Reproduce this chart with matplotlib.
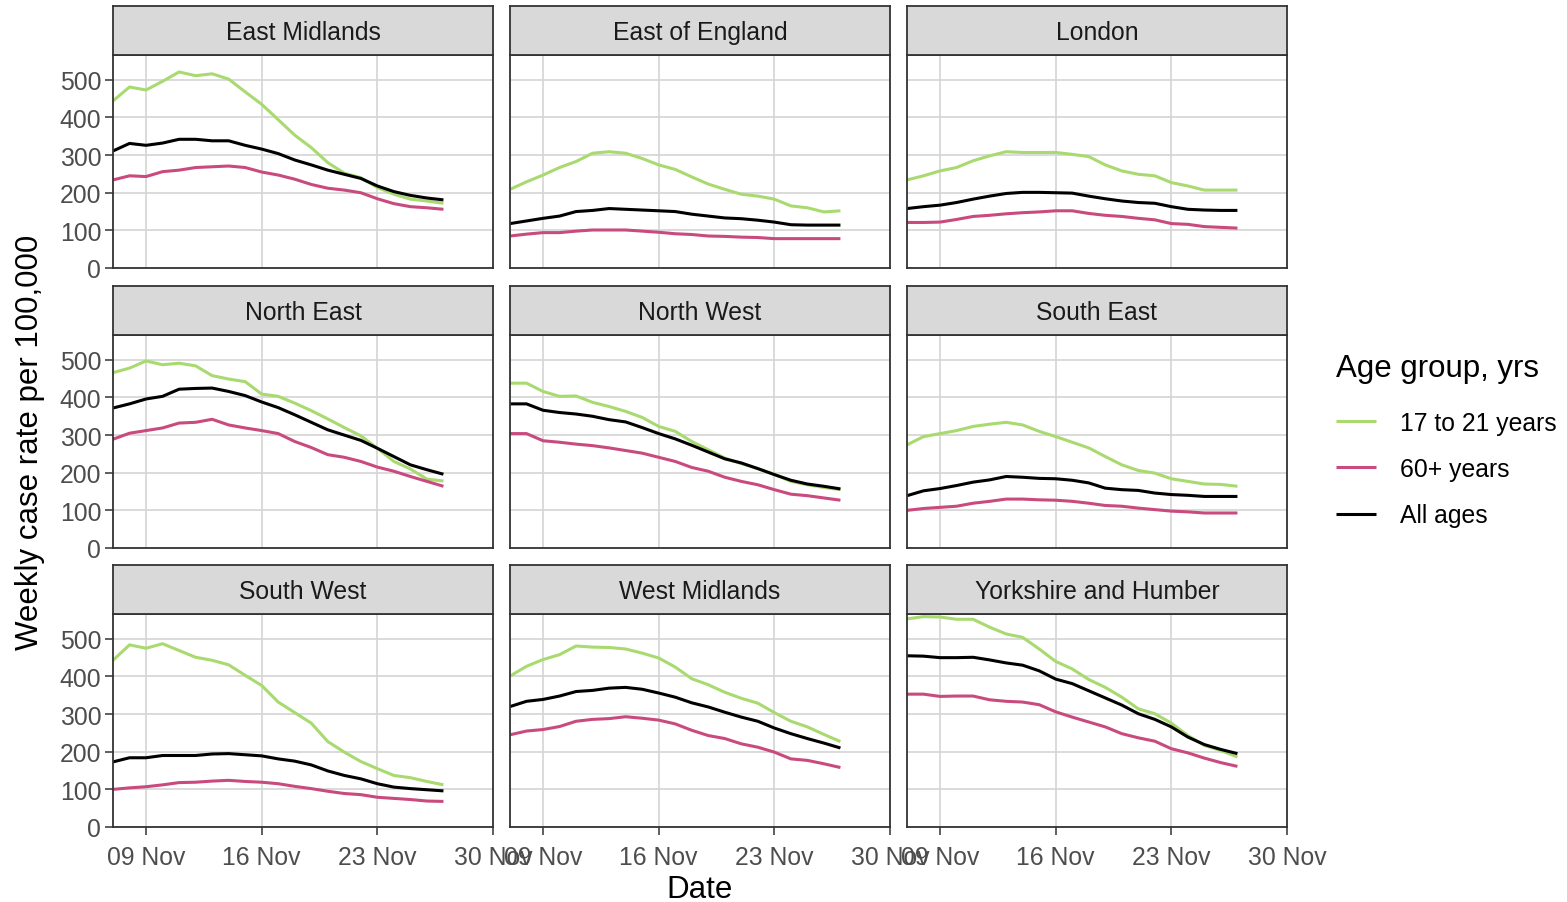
import matplotlib
matplotlib.use('Agg')
import matplotlib.pyplot as plt
import matplotlib.dates as mdates
import pandas as pd

plt.rcParams['font.family'] = ['Liberation Sans', 'DejaVu Sans']

# daily values, 07 Nov to 27 Nov 2020
dates = pd.date_range('2020-11-07', '2020-11-27', freq='D')

regions = ['East Midlands', 'East of England', 'London',
           'North East', 'North West', 'South East',
           'South West', 'West Midlands', 'Yorkshire and Humber']

age_groups = ['17 to 21 years', '60+ years', 'All ages']
age_colors = ['#a8da70', '#c94a7e', '#000000']

east_midlands_young = [444, 481, 473, 496, 521, 511, 516, 502, 468, 435, 394, 353, 320, 280, 252, 240, 214, 196, 183, 178, 172]
east_midlands_old = [234, 245, 243, 256, 260, 267, 269, 271, 267, 255, 247, 236, 222, 212, 207, 200, 184, 171, 163, 160, 156]
east_midlands_all = [311, 331, 326, 332, 342, 342, 338, 338, 326, 316, 304, 287, 274, 260, 249, 238, 218, 203, 193, 186, 181]

east_england_young = [209, 229, 247, 267, 283, 305, 309, 305, 291, 274, 262, 242, 223, 209, 196, 191, 183, 165, 160, 149, 152]
east_england_old = [85, 90, 94, 94, 98, 101, 101, 101, 98, 95, 91, 89, 85, 84, 82, 81, 78, 78, 78, 78, 78]
east_england_all = [118, 125, 132, 138, 150, 153, 158, 156, 154, 152, 150, 143, 138, 133, 131, 127, 122, 115, 114, 114, 114]

london_young = [234, 245, 258, 267, 285, 298, 309, 307, 307, 307, 302, 296, 274, 258, 249, 245, 227, 218, 207, 207, 207]
london_old = [121, 121, 122, 129, 137, 140, 144, 147, 149, 152, 152, 145, 140, 137, 132, 128, 118, 116, 110, 108, 106]
london_all = [158, 163, 167, 174, 183, 191, 198, 201, 201, 200, 199, 191, 184, 178, 174, 172, 163, 156, 154, 153, 153]

north_east_young = [466, 478, 497, 487, 491, 484, 458, 449, 442, 409, 403, 385, 365, 343, 320, 298, 265, 230, 210, 183, 178]
north_east_old = [289, 305, 312, 319, 332, 334, 342, 327, 319, 312, 304, 283, 267, 248, 241, 230, 215, 204, 190, 177, 164]
north_east_all = [372, 383, 396, 403, 422, 424, 425, 416, 405, 388, 373, 354, 334, 314, 300, 286, 265, 243, 221, 208, 196]

north_west_young = [438, 438, 416, 403, 404, 387, 376, 363, 347, 323, 310, 283, 261, 239, 224, 211, 196, 177, 168, 161, 155]
north_west_old = [304, 304, 285, 281, 276, 272, 266, 259, 252, 241, 230, 214, 204, 188, 177, 168, 155, 143, 139, 133, 127]
north_west_all = [383, 383, 366, 360, 356, 350, 341, 335, 320, 304, 290, 273, 255, 237, 226, 211, 195, 180, 170, 164, 157]

south_east_young = [274, 296, 304, 312, 323, 329, 334, 327, 310, 296, 281, 266, 243, 221, 206, 199, 184, 177, 170, 169, 164]
south_east_old = [100, 105, 108, 111, 119, 124, 130, 130, 128, 127, 124, 119, 113, 111, 106, 102, 98, 96, 93, 93, 93]
south_east_all = [139, 152, 158, 166, 175, 181, 190, 188, 185, 184, 180, 173, 159, 155, 153, 146, 142, 140, 137, 137, 137]

south_west_young = [443, 484, 475, 487, 469, 451, 443, 431, 403, 376, 332, 304, 276, 227, 199, 174, 155, 137, 131, 121, 112]
south_west_old = [100, 104, 107, 112, 118, 119, 122, 124, 121, 119, 115, 108, 102, 95, 89, 86, 79, 76, 73, 69, 68]
south_west_all = [173, 184, 184, 190, 190, 190, 194, 195, 192, 189, 181, 175, 165, 149, 137, 128, 115, 106, 102, 99, 96]

west_midlands_young = [401, 427, 445, 458, 481, 478, 477, 473, 462, 449, 425, 394, 378, 358, 342, 329, 304, 281, 266, 246, 227]
west_midlands_old = [245, 255, 259, 267, 281, 286, 288, 293, 289, 284, 274, 257, 243, 235, 221, 212, 199, 181, 177, 168, 158]
west_midlands_all = [320, 334, 339, 348, 360, 363, 369, 371, 366, 356, 345, 330, 319, 305, 292, 281, 263, 248, 235, 223, 210]

yorkshire_young = [553, 559, 558, 552, 552, 531, 513, 504, 473, 440, 420, 392, 371, 345, 314, 301, 276, 243, 217, 203, 186]
yorkshire_old = [353, 353, 347, 348, 348, 338, 334, 332, 325, 306, 292, 279, 266, 248, 237, 228, 208, 197, 183, 171, 161]
yorkshire_all = [455, 454, 450, 450, 451, 444, 436, 430, 415, 393, 381, 362, 343, 324, 301, 286, 266, 239, 219, 206, 195]

region_series = [
    (east_midlands_young, east_midlands_old, east_midlands_all),
    (east_england_young, east_england_old, east_england_all),
    (london_young, london_old, london_all),
    (north_east_young, north_east_old, north_east_all),
    (north_west_young, north_west_old, north_west_all),
    (south_east_young, south_east_old, south_east_all),
    (south_west_young, south_west_old, south_west_all),
    (west_midlands_young, west_midlands_old, west_midlands_all),
    (yorkshire_young, yorkshire_old, yorkshire_all),
]

y_ticks = [0, 100, 200, 300, 400, 500]
x_ticks = pd.to_datetime(['2020-11-09', '2020-11-16', '2020-11-23', '2020-11-30'])

W, H = 1567, 903
fig = plt.figure(figsize=(W / 100, H / 100), dpi=100)


def px_box(x0, y_top, w, h):
    return [x0 / W, 1 - (y_top + h) / H, w / W, h / H]


col_x = [113, 510, 907]
row_top = [56, 336, 615]
panel_w, panel_h = 380, 213
strip_h = 49
border = '#333333'
lines = []

for i, name in enumerate(regions):
    r, c = divmod(i, 3)
    ax = fig.add_axes(px_box(col_x[c], row_top[r], panel_w, panel_h))
    for vals, col in zip(region_series[i], age_colors):
        ln, = ax.plot(dates, vals, color=col, lw=2.2, solid_capstyle='butt')
        if i == 0:
            lines.append(ln)
    ax.set_xlim(pd.Timestamp('2020-11-07'), pd.Timestamp('2020-11-30'))
    ax.set_ylim(0, 566)
    ax.set_xticks(x_ticks)
    ax.set_yticks(y_ticks)
    ax.xaxis.set_major_formatter(mdates.DateFormatter('%d %b'))
    ax.grid(True, color='#d4d4d4', lw=1.2)
    ax.set_axisbelow(True)
    for sp in ax.spines.values():
        sp.set_color(border)
        sp.set_linewidth(1.3)
    ax.tick_params(colors=border, length=5.5, width=1.1, labelsize=17.8,
                   labelcolor='#4d4d4d')
    ax.tick_params(axis='x', pad=7.5)
    ax.tick_params(axis='y', pad=3)
    if c != 0:
        ax.tick_params(axis='y', left=False, labelleft=False)
    if r != 2:
        ax.tick_params(axis='x', bottom=False, labelbottom=False)

    sx = fig.add_axes(px_box(col_x[c], row_top[r] - strip_h, panel_w, strip_h))
    sx.set_facecolor('#d9d9d9')
    sx.set_xticks([])
    sx.set_yticks([])
    for sp in sx.spines.values():
        sp.set_color(border)
        sp.set_linewidth(1.3)
    sx.text(0.5, 0.47, name, ha='center', va='center', fontsize=17.8,
            color='#1a1a1a', transform=sx.transAxes)

fig.text(700 / W, 1 - 890 / H, 'Date', ha='center', va='center', fontsize=22.5)
fig.text(30 / W, 1 - 442 / H, 'Weekly case rate per 100,000', ha='center',
         va='center', rotation=90, fontsize=22.5)

leg = fig.legend(lines, age_groups, title='Age group, yrs',
                 loc='upper left', bbox_to_anchor=(1336 / W, 1 - 354 / H),
                 borderaxespad=0, borderpad=0,
                 frameon=False, fontsize=17.8, title_fontsize=22.5,
                 handlelength=1.6, handletextpad=1.0, labelspacing=0.9)
leg._legend_box.align = 'left'
leg._legend_box.sep = 20

fig.savefig('out.png', dpi=100)
